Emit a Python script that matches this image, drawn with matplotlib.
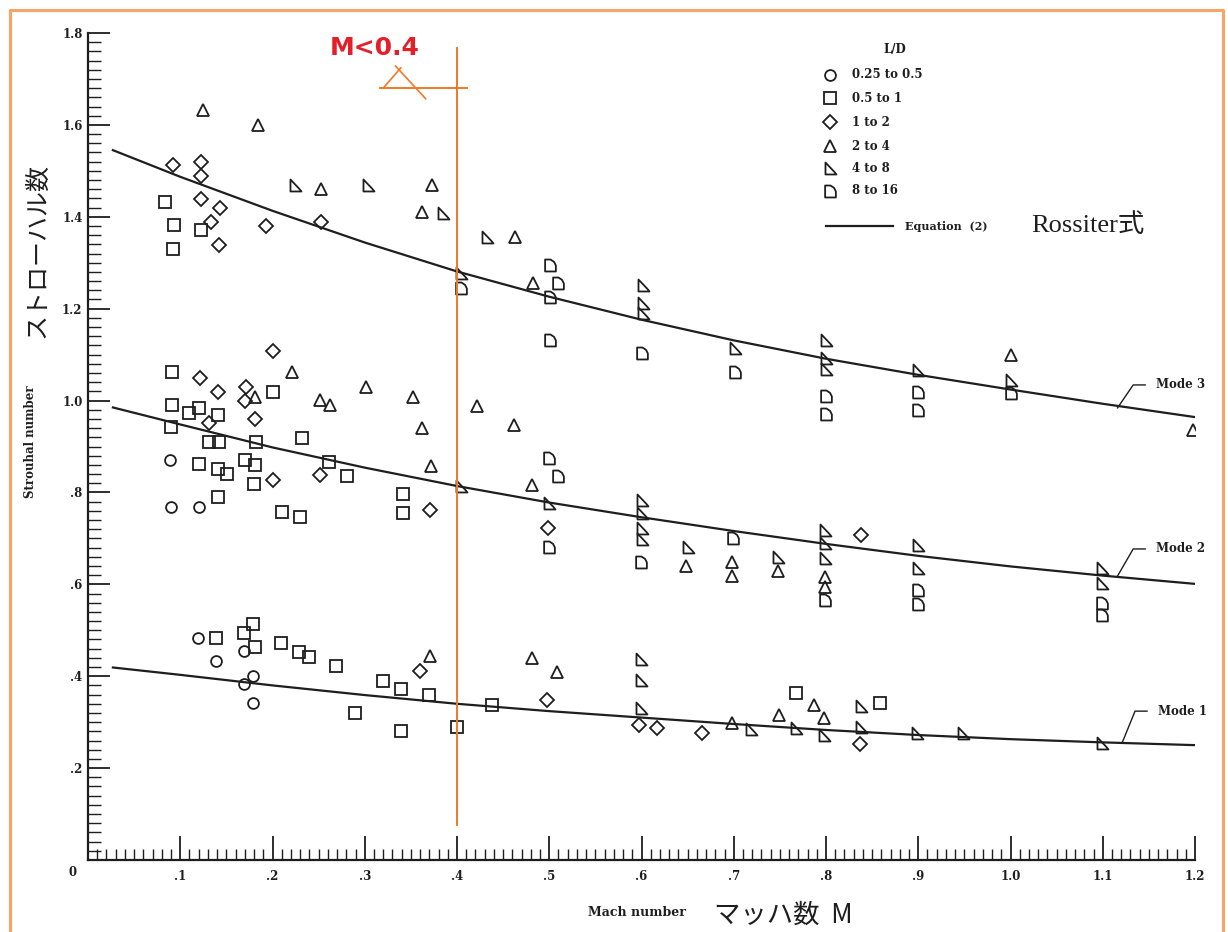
import matplotlib
matplotlib.use('Agg')
import matplotlib.pyplot as plt
from matplotlib.path import Path
from matplotlib.lines import Line2D
from matplotlib.ticker import MultipleLocator, FuncFormatter

# ---------------- data ----------------
# L/D 0.25 to 0.5 (circles)
circ_x = [0.089, 0.090, 0.120, 0.119, 0.139, 0.169, 0.179, 0.169, 0.179]
circ_y = [0.871, 0.768, 0.768, 0.483, 0.433, 0.454, 0.401, 0.382, 0.342]

# L/D 0.5 to 1 (squares)
sq_x = [0.083, 0.093, 0.123, 0.092,
        0.091, 0.201, 0.091, 0.120, 0.110, 0.141, 0.090, 0.131, 0.142, 0.182, 0.232,
        0.120, 0.141, 0.151, 0.170, 0.181, 0.180, 0.261, 0.281, 0.141, 0.210, 0.230,
        0.341, 0.341,
        0.139, 0.179, 0.169, 0.181, 0.209, 0.229, 0.240, 0.269, 0.289, 0.320, 0.339,
        0.370, 0.339, 0.400, 0.438, 0.768, 0.859]
sq_y = [1.432, 1.382, 1.371, 1.330,
        1.063, 1.019, 0.990, 0.983, 0.972, 0.969, 0.943, 0.909, 0.909, 0.909, 0.919,
        0.862, 0.850, 0.840, 0.871, 0.860, 0.819, 0.867, 0.836, 0.790, 0.758, 0.747,
        0.797, 0.755,
        0.484, 0.514, 0.493, 0.463, 0.473, 0.452, 0.441, 0.422, 0.321, 0.390, 0.372,
        0.359, 0.281, 0.290, 0.337, 0.363, 0.342]

# L/D 1 to 2 (diamonds)
dia_x = [0.092, 0.123, 0.123, 0.123, 0.143, 0.133, 0.193, 0.142, 0.253,
         0.201, 0.121, 0.141, 0.171, 0.170, 0.131, 0.181, 0.201, 0.251, 0.371, 0.499, 0.838,
         0.360, 0.498, 0.597, 0.617, 0.666, 0.837]
dia_y = [1.513, 1.520, 1.489, 1.439, 1.419, 1.389, 1.379, 1.339, 1.388,
         1.108, 1.050, 1.019, 1.030, 0.998, 0.951, 0.960, 0.826, 0.838, 0.762, 0.723, 0.707,
         0.411, 0.348, 0.294, 0.287, 0.276, 0.253]

# L/D 2 to 4 (triangles)
tri_x = [0.125, 0.184, 0.253, 0.373, 0.362, 0.463, 0.482, 1.001, 1.198,
         0.221, 0.181, 0.251, 0.262, 0.301, 0.352, 0.422, 0.362, 0.462, 0.372, 0.481,
         0.648, 0.698, 0.698, 0.748, 0.799, 0.799,
         0.371, 0.481, 0.508, 0.698, 0.749, 0.787, 0.798]
tri_y = [1.633, 1.600, 1.461, 1.469, 1.410, 1.355, 1.255, 1.099, 0.936,
         1.063, 1.008, 1.001, 0.990, 1.029, 1.008, 0.989, 0.940, 0.947, 0.858, 0.816,
         0.640, 0.649, 0.618, 0.628, 0.617, 0.595,
         0.443, 0.439, 0.409, 0.299, 0.316, 0.337, 0.308]

# L/D 4 to 8 (flagged triangles)
flag_x = [0.224, 0.304, 0.385, 0.433, 0.404, 0.602, 0.602, 0.602, 0.701, 0.800, 0.800,
          0.800, 0.900, 1.001,
          0.404, 0.500, 0.600, 0.600, 0.600, 0.600, 0.650, 0.748, 0.799, 0.799, 0.799,
          0.900, 0.900, 1.099, 1.099,
          0.599, 0.599, 0.599, 0.719, 0.768, 0.798, 0.838, 0.838, 0.899, 0.949, 1.099]
flag_y = [1.469, 1.469, 1.408, 1.357, 1.277, 1.252, 1.212, 1.190, 1.114, 1.132, 1.092,
          1.069, 1.067, 1.045,
          0.813, 0.776, 0.784, 0.755, 0.722, 0.698, 0.682, 0.659, 0.718, 0.689, 0.657,
          0.686, 0.635, 0.635, 0.602,
          0.437, 0.392, 0.330, 0.285, 0.287, 0.272, 0.335, 0.290, 0.276, 0.277, 0.254]

# L/D 8 to 16 (D-shapes)
dsh_x = [0.404, 0.501, 0.510, 0.501, 0.501, 0.601, 0.701, 0.800, 0.800, 0.900, 0.900, 1.001,
         0.500, 0.510, 0.500, 0.599, 0.699, 0.799, 0.900, 0.900, 1.099, 1.099]
dsh_y = [1.246, 1.295, 1.255, 1.226, 1.132, 1.103, 1.063, 1.009, 0.970, 1.018, 0.980, 1.016,
         0.874, 0.836, 0.682, 0.649, 0.700, 0.565, 0.588, 0.557, 0.559, 0.533]

# Equation (2) curves
curve_m = [0.027, 0.1, 0.2, 0.3, 0.4, 0.5, 0.6, 0.7, 0.8, 0.9, 1.0, 1.1, 1.2]
mode1 = [0.419, 0.403, 0.380, 0.359, 0.340, 0.324, 0.310, 0.296, 0.283, 0.272, 0.263, 0.256, 0.250]
mode2 = [0.985, 0.948, 0.898, 0.854, 0.814, 0.778, 0.746, 0.716, 0.688, 0.662, 0.639, 0.619, 0.601]
mode3 = [1.545, 1.487, 1.413, 1.344, 1.281, 1.226, 1.176, 1.131, 1.091, 1.056, 1.024, 0.993, 0.964]

legend_labels = ['0.25 to 0.5', '0.5 to 1', '1 to 2', '2 to 4', '4 to 8', '8 to 16']

# ---------------- figure ----------------
W, H = 1228, 932
fig = plt.figure(figsize=(W / 100, H / 100), dpi=100)
fig.patch.set_facecolor('white')
L, R, B, T = 88, 1195, 860, 33
ax = fig.add_axes([L / W, 1 - B / H, (R - L) / W, (B - T) / H])
ax.set_xlim(0, 1.2)
ax.set_ylim(0, 1.8)


def fp(px, py):
    return px / W, 1 - py / H


ink = '#1e1e1e'
sb = dict(family='DejaVu Serif', weight='bold', color=ink)
jp = ['Noto Sans CJK JP', 'DejaVu Sans']

flag_marker = Path([(-0.42, 0.5), (-0.42, -0.5), (0.5, -0.5), (0.32, -0.28), (-0.42, 0.5)],
                   [Path.MOVETO, Path.LINETO, Path.LINETO, Path.LINETO, Path.CLOSEPOLY])
d_marker = Path([(-0.45, 0.5), (0.0, 0.5), (0.3, 0.3), (0.45, 0.0), (0.45, -0.5), (-0.45, -0.5), (-0.45, 0.5)],
                [Path.MOVETO] + [Path.LINETO] * 5 + [Path.CLOSEPOLY])

styles = [('o', 7.8), ('s', 8.2), ('D', 7.4), ('^', 8.8), (flag_marker, 8.6), (d_marker, 8.6)]
series = [(circ_x, circ_y), (sq_x, sq_y), (dia_x, dia_y), (tri_x, tri_y), (flag_x, flag_y), (dsh_x, dsh_y)]

for (mk, ms), (xs, ys) in zip(styles, series):
    ax.plot(xs, ys, linestyle='none', marker=mk, ms=ms, mfc='none', mec=ink, mew=1.3, zorder=3)

for cy in (mode1, mode2, mode3):
    ax.plot(curve_m, cy, color=ink, lw=1.6, zorder=2)

# mode labels with leaders
for (x0, y0, x1, y1, lab) in [(1.116, 0.984, 1.133, 1.034, 'Mode 3'),
                              (1.116, 0.618, 1.133, 0.677, 'Mode 2'),
                              (1.121, 0.255, 1.135, 0.324, 'Mode 1')]:
    ax.plot([x0, x1, x1 + 0.013], [y0, y1, y1], color=ink, lw=1.0, clip_on=False)
    ax.text(x1 + 0.025, y1, lab, fontsize=8.5, va='center', ha='left', **sb)

# axes styling
for s in ('top', 'right'):
    ax.spines[s].set_visible(False)
for s in ('left', 'bottom'):
    ax.spines[s].set_linewidth(1.6)
    ax.spines[s].set_color(ink)

ax.xaxis.set_major_locator(MultipleLocator(0.1))
ax.xaxis.set_minor_locator(MultipleLocator(0.01))
ax.yaxis.set_major_locator(MultipleLocator(0.2))
ax.yaxis.set_minor_locator(MultipleLocator(0.02))


def fmt(v, pos):
    if abs(v) < 1e-9:
        return ''
    s = f'{v:.1f}'
    return s[1:] if v < 0.999 else s


ax.xaxis.set_major_formatter(FuncFormatter(fmt))
ax.yaxis.set_major_formatter(FuncFormatter(fmt))
ax.tick_params(axis='both', which='major', direction='in', color=ink, width=1.3, labelsize=8.5,
               labelcolor=ink)
ax.tick_params(axis='x', which='major', length=17, pad=7)
ax.tick_params(axis='y', which='major', length=16, pad=4)
ax.tick_params(axis='x', which='minor', direction='in', length=8, width=1.0, color=ink)
ax.tick_params(axis='y', which='minor', direction='in', length=9, width=1.0, color=ink)
for lab in ax.get_xticklabels() + ax.get_yticklabels():
    lab.set_family('DejaVu Serif')
    lab.set_weight('bold')
fig.text(*fp(73, 873), '0', fontsize=8.5, ha='center', va='center', **sb)

# axis titles
fig.text(*fp(30, 442), 'Strouhal number', rotation=90, fontsize=8.5, ha='center', va='center', **sb)
fig.text(*fp(37, 251), 'ストローハル数', rotation=90, fontsize=18, ha='center', va='center',
         family=jp, color=ink)
fig.text(*fp(637, 913), 'Mach number', fontsize=9, ha='center', va='center', **sb)
fig.text(*fp(714, 915), 'マッハ数  M', fontsize=19, ha='left', va='center', family=jp, color=ink)

# legend (manual)
fig.text(*fp(895, 50), 'L/D', fontsize=8.5, ha='center', va='center', **sb)
rows = [75, 98, 122, 146, 168, 191]
for (mk, ms), lab, ry in zip(styles, legend_labels, rows):
    fig.add_artist(Line2D([830 / W], [1 - ry / H], marker=mk, ms=ms, mfc='none', mec=ink, mew=1.3,
                          linestyle='none', transform=fig.transFigure))
    fig.text(*fp(852, ry), lab, fontsize=8.5, ha='left', va='center', **sb)
fig.add_artist(Line2D([826 / W, 893 / W], [1 - 226 / H, 1 - 226 / H], color=ink, lw=1.6,
                      transform=fig.transFigure))
fig.text(*fp(905, 226), 'Equation  (2)', fontsize=8, ha='left', va='center', **sb)
fig.text(*fp(1031, 225), 'Rossiter式', fontsize=19, ha='left', va='center',
         family=['Liberation Serif', 'Noto Sans CJK JP'], color=ink)

# orange annotations
orange = '#F07A28'
ax.plot([0.4, 0.4], [0.076, 1.767], color=orange, lw=1.4, zorder=4)
ax.plot([0.317, 0.4105], [1.680, 1.680], color=orange, lw=1.4)
ax.plot([0.320, 0.339], [1.680, 1.724], color=orange, lw=1.2)
ax.plot([0.3334, 0.366], [1.728, 1.657], color=orange, lw=1.2)
fig.text(*fp(330, 48), 'M<0.4', fontsize=18, ha='left', va='center', color='#E3202A',
         family='DejaVu Sans', weight='bold')

# outer orange frame (left, top, right)
frame = '#F6A566'
fig.add_artist(Line2D([10 / W, 10 / W, 1223 / W, 1223 / W], [0, 1 - 10 / H, 1 - 10 / H, 0],
                      color=frame, lw=2.2, transform=fig.transFigure))

fig.savefig('out.png', dpi=100, facecolor='white')
